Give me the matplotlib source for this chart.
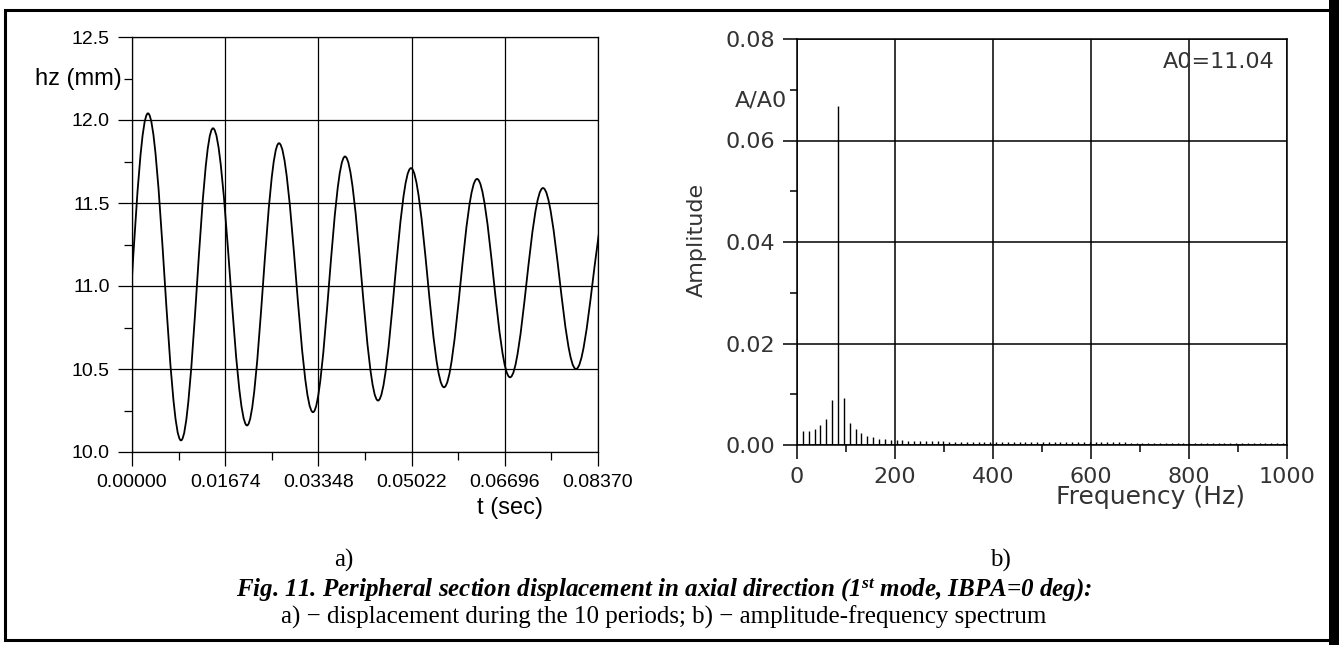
import numpy as np
import matplotlib
matplotlib.use("Agg")
import matplotlib.pyplot as plt
from matplotlib.path import Path
from matplotlib.patches import PathPatch, Rectangle

plt.rcParams["font.family"] = ["Liberation Sans", "DejaVu Sans"]
plt.rcParams["mathtext.fontset"] = "custom"
plt.rcParams["mathtext.it"] = "Liberation Serif:italic:bold"
plt.rcParams["mathtext.rm"] = "Liberation Serif:italic:bold"

# a) peripheral section displacement, extrema
# (first and last points are the continuation just outside the plotted range)
T_EXT = [-0.0030, 0.00287, 0.00880, 0.01455, 0.02066, 0.02640, 0.03251,
         0.03826, 0.04419, 0.05011, 0.05604, 0.06197, 0.06790, 0.07382,
         0.07975, 0.08570]
HZ_EXT = [10.00, 12.04, 10.07, 11.95, 10.16, 11.86, 10.24,
          11.78, 10.31, 11.71, 10.39, 11.645, 10.45, 11.59,
          10.50, 11.54]
T_TICKS = [0.00000, 0.01674, 0.03348, 0.05022, 0.06696, 0.08370]

# b) amplitude-frequency spectrum, A/A0 per FFT bin
DF = 11.95  # Hz, bin spacing
AMP = [0.0028, 0.0028, 0.0031, 0.0039, 0.0052, 0.0088, 0.0667, 0.0093,
       0.0044, 0.0031, 0.0023, 0.0018, 0.0015, 0.0012, 0.0012, 0.0010,
       0.0010, 0.0009, 0.0008, 0.0008, 0.0007, 0.0007, 0.0007, 0.0007,
       0.0007, 0.0006, 0.0006, 0.0006, 0.0006, 0.0006, 0.0006, 0.0006,
       0.0006, 0.0006, 0.0006, 0.0006, 0.0005, 0.0005, 0.0005, 0.0005,
       0.0005, 0.0005, 0.0005, 0.0005, 0.0005, 0.0005, 0.0005, 0.0005,
       0.0005, 0.0005, 0.0005, 0.0005, 0.0005, 0.0005, 0.0005, 0.0005,
       0.0004, 0.0004, 0.0004, 0.0004, 0.0004, 0.0004, 0.0004, 0.0004,
       0.0004, 0.0004, 0.0004, 0.0004, 0.0004, 0.0004, 0.0004, 0.0004,
       0.0004, 0.0004, 0.0004, 0.0004, 0.0004, 0.0004, 0.0004, 0.0004,
       0.0004, 0.0004, 0.0004]
A0 = 11.04

W, H = 1339, 645


def fx(px):
    return px / W


def fy(py):
    return 1 - py / H


def smooth_path(ts, ys, a=0.364):
    # cubic Bezier through successive extrema, horizontal tangent at each
    verts = [(ts[0], ys[0])]
    codes = [Path.MOVETO]
    for t0, y0, t1, y1 in zip(ts[:-1], ys[:-1], ts[1:], ys[1:]):
        dt = t1 - t0
        verts += [(t0 + a * dt, y0), (t1 - a * dt, y1), (t1, y1)]
        codes += [Path.CURVE4] * 3
    return Path(verts, codes)


fig = plt.figure(figsize=(W / 100, H / 100), dpi=100)

# ---------------- a) ----------------
ax1 = fig.add_axes([fx(132), fy(452), fx(598 - 132), (452 - 37) / H])
ax1.add_patch(PathPatch(smooth_path(T_EXT, HZ_EXT), fill=False,
                        edgecolor="black", linewidth=1.3))
ax1.set_xlim(0, 0.0837)
ax1.set_ylim(10.0, 12.5)
ax1.set_xticks(T_TICKS)
ax1.set_xticklabels([f"{t:.5f}" for t in T_TICKS])
ax1.set_xticks([(a + b) / 2 for a, b in zip(T_TICKS[:-1], T_TICKS[1:])],
               minor=True)
ax1.set_yticks([10.0, 10.5, 11.0, 11.5, 12.0, 12.5])
ax1.set_yticklabels(["10.0", "10.5", "11.0", "11.5", "12.0", "12.5"])
ax1.set_yticks([10.25, 10.75, 11.25, 11.75, 12.25], minor=True)
ax1.grid(True, which="major", color="black", linewidth=0.9)
ax1.tick_params(which="major", direction="out", length=10, width=0.9,
                labelsize=14, pad=6)
ax1.tick_params(which="minor", direction="out", length=5.5, width=0.9)
for s in ax1.spines.values():
    s.set_linewidth(0.9)
ax1.text(-0.023, 12.25, "hz (mm)", transform=ax1.get_yaxis_transform(),
         ha="right", va="center", fontsize=17)
fig.text(fx(510), fy(508), "t (sec)", ha="center", va="center", fontsize=17)

# ---------------- b) ----------------
TXT = "#333333"
ax2 = fig.add_axes([fx(797), fy(445), fx(1287 - 797), (445 - 39) / H])
freq = np.arange(1, len(AMP) + 1) * DF
ax2.vlines(freq, 0, AMP, color="black", linewidth=1.0)
ax2.set_xlim(0, 1000)
ax2.set_ylim(0, 0.08)
ax2.set_xticks([0, 200, 400, 600, 800, 1000])
ax2.set_xticks([100, 300, 500, 700, 900], minor=True)
ax2.set_yticks([0.0, 0.02, 0.04, 0.06, 0.08])
ax2.set_yticklabels(["0.00", "0.02", "0.04", "0.06", "0.08"])
ax2.set_yticks([0.01, 0.03, 0.05, 0.07], minor=True)
ax2.grid(True, which="major", color="black", linewidth=1.1)
ax2.tick_params(which="major", direction="out", length=10, width=1.1,
                labelsize=16, labelcolor=TXT, pad=6,
                labelfontfamily="DejaVu Sans")
ax2.tick_params(which="minor", direction="out", length=5, width=1.1)
for s in ax2.spines.values():
    s.set_linewidth(1.1)
ax2.text(-0.02, 0.0678, "A/A0", transform=ax2.get_yaxis_transform(),
         ha="right", va="center", fontsize=16, color=TXT,
         family="DejaVu Sans")
ax2.text(0.975, 0.0755, f"A0={A0:.2f}", transform=ax2.get_yaxis_transform(),
         ha="right", va="center", fontsize=16, color=TXT,
         family="DejaVu Sans")
fig.text(fx(697), fy(240), "Amplitude", rotation=90, ha="center",
         va="center", fontsize=16, color=TXT, family="DejaVu Sans")
fig.text(fx(1150), fy(497), "Frequency (Hz)", ha="center", va="center",
         fontsize=18, color=TXT, family="DejaVu Sans")

# ---------------- captions ----------------
serif = ["Liberation Serif", "DejaVu Serif"]
fig.text(fx(344), fy(560), "a)", ha="center", va="center", fontsize=18,
         family=serif)
fig.text(fx(1000), fy(560), "b)", ha="center", va="center", fontsize=18,
         family=serif)
fig.text(fx(664), fy(590),
         "Fig. 11. Peripheral section displacement in axial direction "
         "(1$^{st}$ mode, IBPA=0 deg):",
         ha="center", va="center", fontsize=18, family=serif,
         style="italic", weight="bold")
fig.text(fx(664), fy(617),
         "a) \u2212 displacement during the 10 periods; "
         "b) \u2212 amplitude-frequency spectrum",
         ha="center", va="center", fontsize=18, family=serif)

# outer frame
fig.add_artist(Rectangle((fx(4.5), fy(639.5)), fx(1333 - 4.5),
                         (639.5 - 9.5) / H, transform=fig.transFigure,
                         fill=False, edgecolor="black", linewidth=2.2))
fig.add_artist(Rectangle((fx(1329), 0), fx(10), 1, transform=fig.transFigure,
                         facecolor="black", edgecolor="none"))

fig.savefig("out.png", dpi=100)
